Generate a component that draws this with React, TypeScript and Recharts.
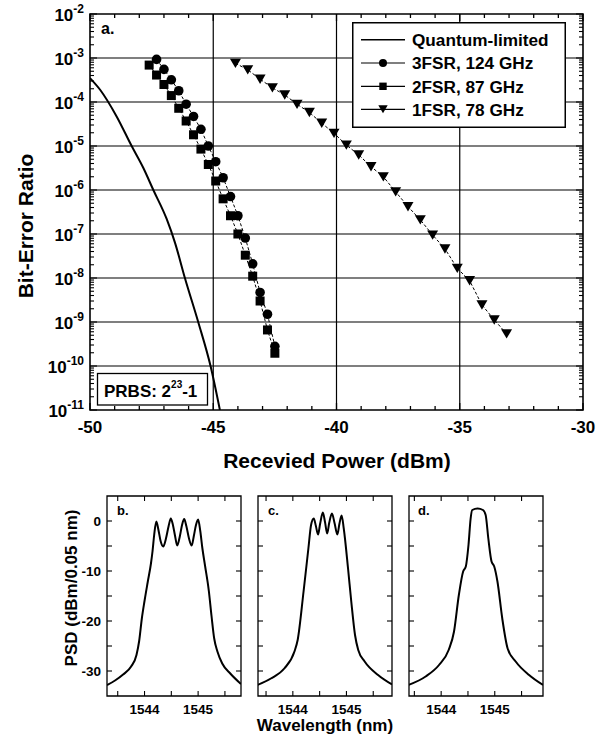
import React from 'react';
import { ComposedChart, LineChart, Line, XAxis, YAxis, ReferenceLine, ReferenceArea, Legend } from 'recharts';

const FONT = 'Arial, "Liberation Sans", Helvetica, sans-serif';

// ---------- Panel a: BER curves ----------
const qlPower = [-50.0, -49.59, -48.92, -48.31, -47.84, -47.43, -46.89, -46.55, -46.15, -45.61, -45.1, -44.73];
const qlBer = [3.5e-4, 1.9e-4, 4.7e-5, 1.0e-5, 3.2e-6, 1.0e-6, 2.2e-7, 6.3e-8, 1.0e-8, 1.0e-9, 9.5e-11, 1.0e-11];

const fsr3Power = [-47.3, -47.0, -46.7, -46.4, -46.1, -45.8, -45.5, -45.2, -44.9, -44.6, -44.3, -44.0, -43.7, -43.4, -43.1, -42.8, -42.5];
const fsr3Ber = [9.3e-4, 5.5e-4, 3.2e-4, 1.8e-4, 8.9e-5, 4.7e-5, 2.4e-5, 1.0e-5, 4.4e-6, 1.9e-6, 7.1e-7, 2.6e-7, 8.1e-8, 2.1e-8, 4.7e-9, 1.5e-9, 2.8e-10];

const fsr2Power = [-47.6, -47.3, -47.0, -46.7, -46.4, -46.1, -45.8, -45.5, -45.2, -44.9, -44.6, -44.3, -44.0, -43.7, -43.4, -43.1, -42.8, -42.5];
const fsr2Ber = [6.9e-4, 4.1e-4, 2.5e-4, 1.4e-4, 7.2e-5, 3.7e-5, 1.8e-5, 8.5e-6, 3.8e-6, 1.6e-6, 6.3e-7, 2.6e-7, 1.0e-7, 3.3e-8, 1.1e-8, 3.0e-9, 6.6e-10, 1.95e-10];

const fsr1Power = [-44.1, -43.6, -43.1, -42.6, -42.1, -41.6, -41.1, -40.6, -40.1, -39.6, -39.1, -38.6, -38.1, -37.6, -37.1, -36.6, -36.1, -35.6, -35.1, -34.6, -34.1, -33.6, -33.1];
const fsr1Ber = [7.6e-4, 5.4e-4, 3.3e-4, 2.1e-4, 1.45e-4, 8.9e-5, 5.8e-5, 3.3e-5, 1.95e-5, 1.05e-5, 6.3e-6, 3.4e-6, 2.0e-6, 9.1e-7, 4.2e-7, 2.1e-7, 9.5e-8, 4.6e-8, 1.66e-8, 8.7e-9, 2.45e-9, 1.12e-9, 5.4e-10];

const mainXMajor = [-50, -45, -40, -35, -30];
const mainXGrid = [-45, -40, -35];
const decadeExp = [-11, -10, -9, -8, -7, -6, -5, -4, -3, -2];
const gridDecades = [1e-10, 1e-9, 1e-8, 1e-7, 1e-6, 1e-5, 1e-4, 1e-3];

const legendLabels = ['Quantum-limited', '3FSR, 124 GHz', '2FSR, 87 GHz', '1FSR, 78 GHz'];

// ---------- Panels b, c, d: spectra ----------
const bWl = [1543.3, 1543.45, 1543.6, 1543.75, 1543.85, 1543.9, 1543.95, 1544.0, 1544.06, 1544.12, 1544.15, 1544.18, 1544.22, 1544.26, 1544.3, 1544.35, 1544.4, 1544.45, 1544.49, 1544.53, 1544.57, 1544.61, 1544.66, 1544.7, 1544.74, 1544.78, 1544.83, 1544.88, 1544.92, 1544.96, 1545.0, 1545.04, 1545.08, 1545.13, 1545.2, 1545.25, 1545.3, 1545.36, 1545.45, 1545.6, 1545.8];
const bPsd = [-32.8, -31.9, -30.7, -29.1, -26.8, -24.0, -19.5, -16.0, -12.2, -8.5, -6.0, -2.8, -0.1, -1.8, -4.0, -5.1, -3.5, -1.0, 0.5, -0.8, -3.0, -4.9, -3.0, -0.8, 0.4, -1.0, -3.5, -4.9, -3.0, -0.8, 0.3, -2.0, -5.5, -9.0, -14.0, -19.0, -23.5, -26.1, -28.5, -30.5, -32.6];

const cWl = [1543.34, 1543.59, 1543.84, 1544.03, 1544.09, 1544.2, 1544.29, 1544.34, 1544.39, 1544.43, 1544.47, 1544.51, 1544.56, 1544.6, 1544.64, 1544.68, 1544.73, 1544.78, 1544.83, 1544.87, 1544.91, 1544.95, 1545.03, 1545.09, 1545.16, 1545.22, 1545.34, 1545.59, 1545.85];
const cPsd = [-32.8, -31.5, -29.5, -26.1, -23.8, -14.1, -5.5, -0.8, 0.5, -1.0, -2.7, -0.5, 1.7, -0.2, -2.5, -0.3, 1.5, -0.5, -2.7, -0.5, 1.1, -1.5, -9.5, -16.1, -22.8, -25.8, -28.1, -30.8, -32.7];

const dWl = [1543.39, 1543.71, 1543.96, 1544.14, 1544.24, 1544.33, 1544.41, 1544.46, 1544.51, 1544.55, 1544.58, 1544.68, 1544.78, 1544.83, 1544.88, 1544.94, 1544.99, 1545.05, 1545.14, 1545.24, 1545.39, 1545.64, 1545.9];
const dPsd = [-32.8, -31.1, -28.8, -25.8, -22.1, -14.8, -10.1, -9.1, -4.8, 0.5, 2.2, 2.5, 2.2, 1.2, -3.5, -8.1, -9.1, -12.1, -19.5, -25.5, -28.1, -30.8, -32.8];

const specXTicks = [1543.5, 1544, 1544.5, 1545, 1545.5];
const specYTicks = [-30, -25, -20, -15, -10, -5, 0];

// ---------- helpers ----------
const zip = (xs: number[], ys: number[]) => xs.map((x, i) => ({ x, y: ys[i] }));
const qlData = zip(qlPower, qlBer);
const fsr3Data = zip(fsr3Power, fsr3Ber);
const fsr2Data = zip(fsr2Power, fsr2Ber);
const fsr1Data = zip(fsr1Power, fsr1Ber);

const mainXTicks: number[] = [];
for (let v = -50; v <= -30; v++) mainXTicks.push(v);
const mainYTicks: number[] = [];
decadeExp.forEach((e) => {
  if (e === -2) { mainYTicks.push(Math.pow(10, e)); return; }
  for (let m = 1; m <= 9; m++) mainYTicks.push(Number((m * Math.pow(10, e)).toPrecision(6)));
});

const PL = 90, PR = 583, PT = 14, PB = 410;

const MainXTick = (props: any) => {
  const { x, payload } = props;
  const v = payload.value;
  const major = mainXMajor.includes(v);
  const len = major ? 7 : 4;
  return (
    <g>
      <line x1={x} x2={x} y1={PB} y2={PB - len} stroke="#000" strokeWidth={1.3} />
      <line x1={x} x2={x} y1={PT} y2={PT + len} stroke="#000" strokeWidth={1.3} />
      {major && (
        <text x={x} y={PB + 23} textAnchor="middle" fontFamily={FONT} fontWeight="bold" fontSize={17} fill="#000">
          {String(v)}
        </text>
      )}
    </g>
  );
};

const MainYTick = (props: any) => {
  const { y, payload } = props;
  const v = payload.value;
  const e = Math.log10(v);
  const major = Math.abs(e - Math.round(e)) < 1e-6;
  const len = major ? 7 : 4;
  return (
    <g>
      <line x1={PL} x2={PL + len} y1={y} y2={y} stroke="#000" strokeWidth={1.1} />
      <line x1={PR} x2={PR - len} y1={y} y2={y} stroke="#000" strokeWidth={1.1} />
      {major && (
        <text x={84} y={y + 7} textAnchor="end" fontFamily={FONT} fontWeight="bold" fontSize={17} fill="#000">
          10<tspan dy={-8} fontSize={12}>{String(Math.round(e))}</tspan>
        </text>
      )}
    </g>
  );
};

const circleDot = (p: any) => <circle key={`c${p.index}`} cx={p.cx} cy={p.cy} r={4.8} fill="#000" />;
const squareDot = (p: any) => <rect key={`s${p.index}`} x={p.cx - 4.5} y={p.cy - 4.5} width={9} height={9} fill="#000" />;
const triDot = (p: any) => (
  <path key={`t${p.index}`} d={`M${p.cx - 5.5},${p.cy - 4.6}L${p.cx + 5.5},${p.cy - 4.6}L${p.cx},${p.cy + 4.8}Z`} fill="#000" />
);

const LegendBox = () => {
  const rows = [24, 47.3, 70.6, 93.6];
  return (
    <svg width={214} height={106} style={{ display: 'block' }}>
      <rect x={0.75} y={0.75} width={212.5} height={104.5} fill="#fff" stroke="#000" strokeWidth={1.5} />
      {rows.map((b, i) => {
        const cy = b - 6.3;
        return (
          <g key={i}>
            <line x1={9} x2={53} y1={cy} y2={cy} stroke="#000" strokeWidth={i === 0 ? 1.6 : 1.2} />
            {i === 1 && <circle cx={31} cy={cy} r={4} fill="#000" />}
            {i === 2 && <rect x={27.3} y={cy - 3.7} width={7.4} height={7.4} fill="#000" />}
            {i === 3 && <path d={`M${26.3},${cy - 4}L${35.7},${cy - 4}L${31},${cy + 4}Z`} fill="#000" />}
            <text x={60} y={b} fontFamily={FONT} fontWeight="bold" fontSize={17.2} fill="#000">{legendLabels[i]}</text>
          </g>
        );
      })}
    </svg>
  );
};

// ---------- spectrum panel ----------
const PANEL_TOP = 496;
const PANEL_H = 200;

function Panel(props: { wl: number[]; psd: number[]; left: number; width: number; domain: [number, number]; showY: boolean }) {
  const { wl, psd, left, width, domain, showY } = props;
  const ML = showY ? 50 : 6, MR = 6, MT = 6, MB = 28;
  const pl = ML, pr = ML + width, pt = MT, pb = MT + PANEL_H;
  const data = wl.map((w, i) => ({ w, p: psd[i] }));
  const XT = (p: any) => {
    const { x, payload } = p;
    const v = payload.value;
    return (
      <g>
        <line x1={x} x2={x} y1={pb} y2={pb - 5} stroke="#000" strokeWidth={1.1} />
        <line x1={x} x2={x} y1={pt} y2={pt + 5} stroke="#000" strokeWidth={1.1} />
        {Number.isInteger(v) && (
          <text x={x} y={pb + 18} textAnchor="middle" fontFamily={FONT} fontWeight="bold" fontSize={13.5} fill="#000">{String(v)}</text>
        )}
      </g>
    );
  };
  const YT = (p: any) => {
    const { y, payload } = p;
    const v = payload.value;
    return (
      <g>
        <line x1={pl} x2={pl + 5} y1={y} y2={y} stroke="#000" strokeWidth={1.1} />
        <line x1={pr} x2={pr - 5} y1={y} y2={y} stroke="#000" strokeWidth={1.1} />
        {showY && v % 10 === 0 && (
          <text x={pl - 6} y={y + 5} textAnchor="end" fontFamily={FONT} fontWeight="bold" fontSize={13.5} fill="#000">{String(v)}</text>
        )}
      </g>
    );
  };
  return (
    <div style={{ position: 'absolute', left: left - ML, top: PANEL_TOP - MT }}>
      <LineChart width={width + ML + MR} height={PANEL_H + MT + MB} margin={{ top: MT, right: MR, left: 0, bottom: 0 }} data={data}>
        <XAxis type="number" dataKey="w" domain={domain} ticks={specXTicks} interval={0} tick={XT} tickLine={false} axisLine={false} height={MB} allowDataOverflow />
        <YAxis type="number" domain={[-35, 5]} ticks={specYTicks} interval={0} tick={YT} tickLine={false} axisLine={false} width={ML} allowDataOverflow />
        <Line dataKey="p" type="monotone" stroke="#000" strokeWidth={2} dot={false} isAnimationActive={false} />
        <ReferenceArea x1={domain[0]} x2={domain[1]} y1={-35} y2={5} fill="none" stroke="#000" strokeWidth={1.3} ifOverflow="visible" />
      </LineChart>
    </div>
  );
}

export default function App() {
  return (
    <div style={{ position: 'fixed', left: 0, top: 0, width: 608, height: 742, background: '#fff' }}>
      <div style={{ position: 'absolute', left: 0, top: 0 }}>
        <ComposedChart width={608} height={480} margin={{ top: PT, right: 608 - PR, left: 0, bottom: 0 }}>
          <XAxis type="number" dataKey="x" domain={[-50, -30]} ticks={mainXTicks} interval={0} tick={MainXTick} tickLine={false} axisLine={false} height={70} allowDataOverflow />
          <YAxis type="number" scale="log" domain={[1e-11, 1e-2]} ticks={mainYTicks} interval={0} tick={MainYTick} tickLine={false} axisLine={false} width={PL} allowDataOverflow />
          {gridDecades.map((v) => (
            <ReferenceLine key={`h${v}`} y={v} stroke="#000" strokeWidth={1.2} />
          ))}
          {mainXGrid.map((v) => (
            <ReferenceLine key={`v${v}`} x={v} stroke="#000" strokeWidth={1.2} />
          ))}
          <Line data={qlData} dataKey="y" type="monotone" stroke="#000" strokeWidth={2} dot={false} isAnimationActive={false} />
          <Line data={fsr3Data} dataKey="y" type="linear" stroke="#000" strokeWidth={1} strokeDasharray="3 2" dot={circleDot} isAnimationActive={false} />
          <Line data={fsr2Data} dataKey="y" type="linear" stroke="#000" strokeWidth={1} strokeDasharray="3 2" dot={squareDot} isAnimationActive={false} />
          <Line data={fsr1Data} dataKey="y" type="linear" stroke="#000" strokeWidth={1} strokeDasharray="3 2" dot={triDot} isAnimationActive={false} />
          <ReferenceArea x1={-50} x2={-30} y1={1e-11} y2={1e-2} fill="none" stroke="#000" strokeWidth={1.6} ifOverflow="visible" />
          <Legend layout="vertical" align="center" verticalAlign="middle" content={() => <LegendBox />}
            wrapperStyle={{ position: 'absolute', left: 352, top: 22, width: 214, height: 106, margin: 0, padding: 0 }} />
        </ComposedChart>
      </div>

      <Panel wl={bWl} psd={bPsd} left={107} width={134} domain={[1543.3, 1545.8]} showY={true} />
      <Panel wl={cWl} psd={cPsd} left={258} width={134} domain={[1543.35, 1545.85]} showY={false} />
      <Panel wl={dWl} psd={dPsd} left={409} width={134} domain={[1543.4, 1545.9]} showY={false} />

      <svg width={608} height={742} style={{ position: 'absolute', left: 0, top: 0, pointerEvents: 'none' }}>
        <text x={33} y={226} transform="rotate(-90 33 226)" textAnchor="middle" fontFamily={FONT} fontWeight="bold" fontSize={21} fill="#000">Bit-Error Ratio</text>
        <text x={337} y={468} textAnchor="middle" fontFamily={FONT} fontWeight="bold" fontSize={21} fill="#000">Recevied Power (dBm)</text>
        <text x={101} y={34} fontFamily={FONT} fontWeight="bold" fontSize={16} fill="#000">a.</text>
        <rect x={97.5} y={373.5} width={110} height={31.5} fill="#fff" stroke="#000" strokeWidth={1.3} />
        <text x={104} y={397} fontFamily={FONT} fontWeight="bold" fontSize={17} fill="#000">
          PRBS: 2<tspan dy={-9} fontSize={10}>23</tspan><tspan dy={9} fontSize={17}>-1</tspan>
        </text>
        <text x={77} y={588} transform="rotate(-90 77 588)" textAnchor="middle" fontFamily={FONT} fontWeight="bold" fontSize={17} fill="#000">PSD (dBm/0.05 nm)</text>
        <text x={325} y={731} textAnchor="middle" fontFamily={FONT} fontWeight="bold" fontSize={17} fill="#000">Wavelength (nm)</text>
        <text x={117} y={515} fontFamily={FONT} fontWeight="bold" fontSize={13} fill="#000">b.</text>
        <text x={268} y={515} fontFamily={FONT} fontWeight="bold" fontSize={13} fill="#000">c.</text>
        <text x={418} y={515} fontFamily={FONT} fontWeight="bold" fontSize={13} fill="#000">d.</text>
      </svg>
    </div>
  );
}
